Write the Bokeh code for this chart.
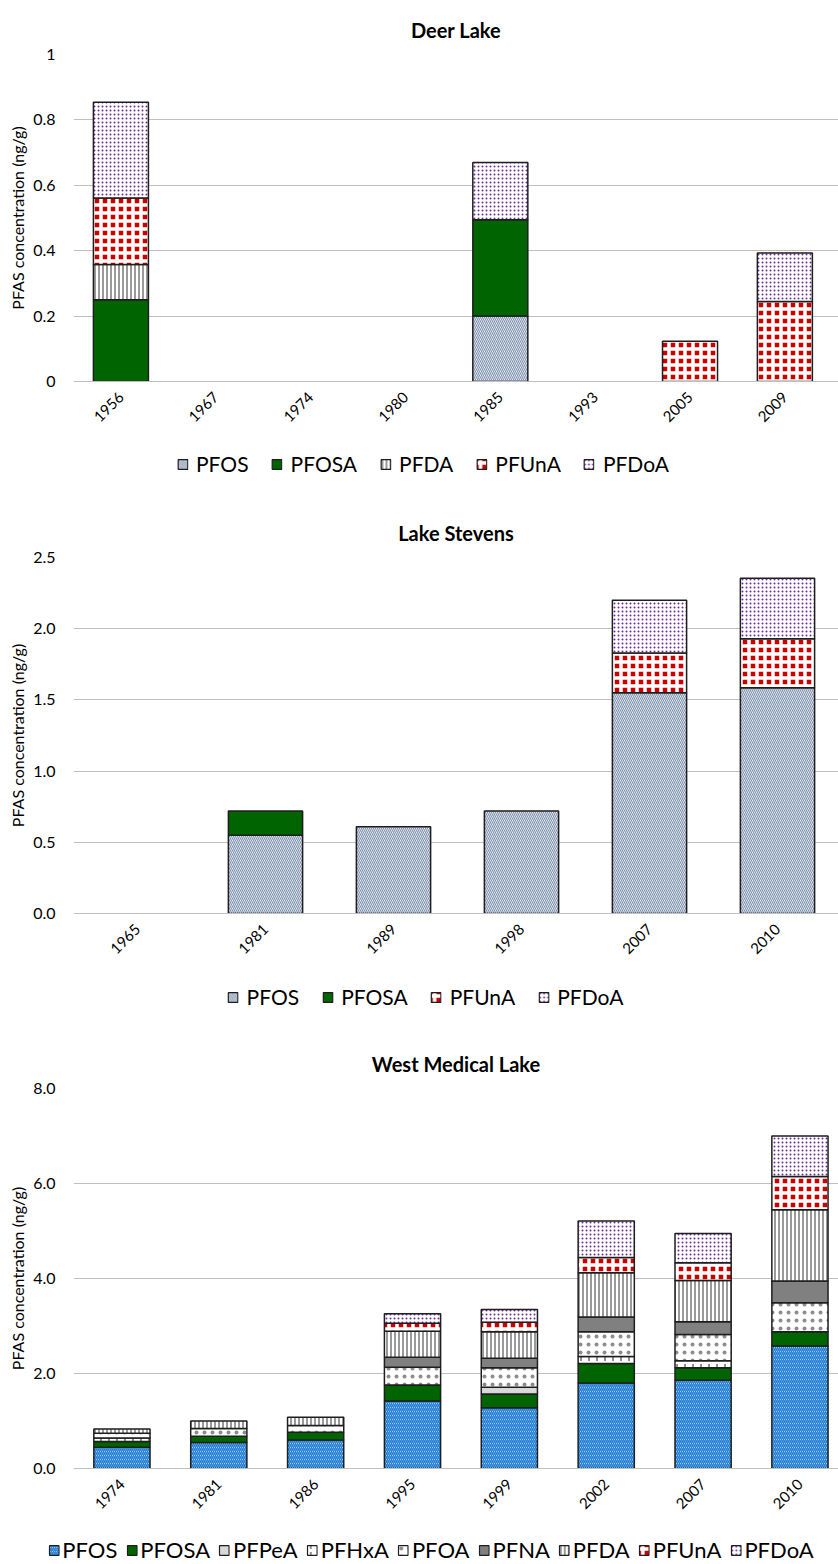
import math
import numpy as np
from bokeh.plotting import figure
from bokeh.models import (ColumnDataSource, Range1d, FixedTicker, NumeralTickFormatter,
                          Legend, LegendItem)
from bokeh.layouts import column
from bokeh.embed import file_html
from bokeh.resources import INLINE

FONT = "Lato"

# ---------------- data ----------------
deer_years = ["1956", "1967", "1974", "1980", "1985", "1993", "2005", "2009"]
deer_PFOS = [0, 0, 0, 0, 0.20, 0, 0, 0]
deer_PFOSA = [0.25, 0, 0, 0, 0.295, 0, 0, 0]
deer_PFDA = [0.108, 0, 0, 0, 0, 0, 0, 0]
deer_PFUnA = [0.203, 0, 0, 0, 0, 0, 0.123, 0.245]
deer_PFDoA = [0.293, 0, 0, 0, 0.175, 0, 0, 0.148]

stevens_years = ["1965", "1981", "1989", "1998", "2007", "2010"]
stevens_PFOS = [0, 0.55, 0.61, 0.72, 1.55, 1.585]
stevens_PFOSA = [0, 0.17, 0, 0, 0, 0]
stevens_PFUnA = [0, 0, 0, 0, 0.28, 0.345]
stevens_PFDoA = [0, 0, 0, 0, 0.37, 0.425]

wml_years = ["1974", "1981", "1986", "1995", "1999", "2002", "2007", "2010"]
wml_PFOS = [0.45, 0.55, 0.60, 1.42, 1.28, 1.80, 1.86, 2.58]
wml_PFOSA = [0.12, 0.13, 0.165, 0.34, 0.29, 0.41, 0.26, 0.30]
wml_PFPeA = [0, 0, 0, 0, 0.14, 0, 0, 0]
wml_PFHxA = [0.07, 0, 0, 0, 0, 0.15, 0.15, 0]
wml_PFOA = [0.10, 0.16, 0.14, 0.37, 0.41, 0.52, 0.55, 0.61]
wml_PFNA = [0, 0, 0, 0.21, 0.20, 0.31, 0.27, 0.46]
wml_PFDA = [0.09, 0.16, 0.175, 0.55, 0.56, 0.93, 0.87, 1.50]
wml_PFUnA = [0, 0, 0, 0.17, 0.20, 0.32, 0.37, 0.70]
wml_PFDoA = [0, 0, 0, 0.20, 0.27, 0.77, 0.62, 0.85]

STYLES = {
    "PFOS": dict(fill_color="white", hatch_pattern="\\", hatch_color="#7f93b0",
                 hatch_scale=4, hatch_weight=1.2),
    "PFOS3": dict(fill_color="white", hatch_pattern="\\", hatch_color="#1a7ad4",
                  hatch_scale=4, hatch_weight=1.6),
    "PFOSA": dict(fill_color="#006400"),
    "PFPeA": dict(fill_color="#d9d9d9"),
    "PFHxA": dict(fill_color="white", hatch_pattern=":", hatch_color="#222222",
                  hatch_scale=8, hatch_weight=1),
    "PFOA": dict(fill_color="white", hatch_pattern=".", hatch_color="#000000",
                 hatch_scale=8, hatch_weight=0.3, hatch_alpha=0.45),
    "PFNA": dict(fill_color="#808080"),
    "PFDA": dict(fill_color="white", hatch_pattern="|", hatch_color="#808080",
                 hatch_scale=4, hatch_weight=1.6),
    "PFUnA": dict(fill_color="#c80000", hatch_pattern="+", hatch_color="white",
                  hatch_scale=8, hatch_weight=3.5),
    "PFDoA": dict(fill_color="white", hatch_pattern=".", hatch_color="#6a2c9a",
                  hatch_scale=4, hatch_weight=1.5),
}

PAGE_W = 838
FRAME_LEFT = 73


def make_chart(title, years, names, series, style_keys, ymax, yint, yfmt, spacing,
               top_border, frame_h, bottom_border, leg_h, leg_top, leg_shift, leg_font,
               leg_spacing, leg_standoff):
    n = len(years)
    frame_w = PAGE_W - FRAME_LEFT
    xend = -0.5 + frame_w / spacing
    p = figure(width=PAGE_W, height=top_border + frame_h + bottom_border,
               x_range=Range1d(-0.5, xend), y_range=Range1d(0, ymax),
               output_backend="svg", toolbar_location=None,
               min_border_left=FRAME_LEFT, min_border_right=0, min_border_top=top_border,
               min_border_bottom=bottom_border)
    p.outline_line_color = None
    p.title.text = title
    p.title.align = "center"
    p.title.text_font = FONT
    p.title.text_font_size = "20px"
    p.title.text_font_style = "bold"
    p.title.text_color = "black"
    p.title.standoff = 25

    x = np.arange(n)
    base = np.zeros(n)
    for name, vals, sk in zip(names, series, style_keys):
        v = np.array(vals, dtype=float)
        m = v > 0
        src = ColumnDataSource(dict(x=x[m], bottom=base[m], top=(base + v)[m]))
        p.vbar(x="x", bottom="bottom", top="top", width=0.58, source=src,
               line_color="#1e1e1e", line_width=1.5, **STYLES[sk])
        base = base + v

    p.xgrid.grid_line_color = None
    p.ygrid.grid_line_color = "#bfbfbf"
    p.ygrid.grid_line_width = 1

    p.yaxis.ticker = FixedTicker(ticks=[round(t, 6) for t in np.arange(0, ymax + 1e-9, yint)])
    p.yaxis.formatter = NumeralTickFormatter(format=yfmt)
    p.yaxis.axis_line_color = None
    p.yaxis.major_tick_line_color = None
    p.yaxis.minor_tick_line_color = None
    p.yaxis.major_tick_out = 0
    p.yaxis.major_tick_in = 0
    p.yaxis.major_label_standoff = 18
    p.yaxis.major_label_text_font = FONT
    p.yaxis.major_label_text_font_size = "16px"
    p.yaxis.major_label_text_color = "black"
    p.yaxis.axis_label = "PFAS concentration (ng/g)"
    p.yaxis.axis_label_text_font = FONT
    p.yaxis.axis_label_text_font_size = "16px"
    p.yaxis.axis_label_text_font_style = "normal"
    p.yaxis.axis_label_text_color = "black"
    p.yaxis.axis_label_standoff = 3

    p.xaxis.ticker = FixedTicker(ticks=list(range(n)))
    p.xaxis.major_label_overrides = {i: y for i, y in enumerate(years)}
    p.xaxis.major_label_orientation = math.pi / 4
    p.xaxis.axis_line_color = "#bfbfbf"
    p.xaxis.major_tick_line_color = None
    p.xaxis.minor_tick_line_color = None
    p.xaxis.major_tick_out = 0
    p.xaxis.major_tick_in = 0
    p.xaxis.major_label_standoff = 13
    p.xaxis.major_label_text_font = FONT
    p.xaxis.major_label_text_font_size = "15px"
    p.xaxis.major_label_text_color = "black"

    # legend strip below the chart: sample renderers carry the styles but draw nothing
    lg = figure(width=PAGE_W, height=leg_h, x_range=Range1d(0, 1), y_range=Range1d(0, 1),
                x_axis_type=None, y_axis_type=None,
                output_backend="svg", toolbar_location=None,
                min_border_left=leg_shift, min_border_right=0, min_border_top=0,
                min_border_bottom=0)
    lg.frame_align = False
    lg.grid.grid_line_color = None
    lg.outline_line_color = None
    items = []
    for name, sk in zip(names, style_keys):
        r = lg.vbar(x=[0.5], bottom=[0.0], top=[float("nan")], width=0.1,
                    line_color="#1e1e1e", line_width=1.2, **STYLES[sk])
        items.append(LegendItem(label=name, renderers=[r]))
    leg = Legend(items=items, orientation="horizontal", location="top_center",
                 border_line_color=None, background_fill_alpha=0,
                 glyph_width=12, glyph_height=12, label_standoff=leg_standoff,
                 spacing=leg_spacing, padding=0, margin=leg_top,
                 label_text_font=FONT, label_text_font_size=leg_font,
                 label_text_color="black")
    lg.add_layout(leg, "center")
    return p, lg


p1, l1 = make_chart("Deer Lake", deer_years,
                    ["PFOS", "PFOSA", "PFDA", "PFUnA", "PFDoA"],
                    [deer_PFOS, deer_PFOSA, deer_PFDA, deer_PFUnA, deer_PFDoA],
                    ["PFOS", "PFOSA", "PFDA", "PFUnA", "PFDoA"],
                    1.0, 0.2, "0.[0]", 94.85, 54, 327, 60, 64, 10, 7, "21px", 22, 8)

p2, l2 = make_chart("Lake Stevens", stevens_years,
                    ["PFOS", "PFOSA", "PFUnA", "PFDoA"],
                    [stevens_PFOS, stevens_PFOSA, stevens_PFUnA, stevens_PFDoA],
                    ["PFOS", "PFOSA", "PFUnA", "PFDoA"],
                    2.5, 0.5, "0.0", 128.0, 52, 356, 60, 63, 11, 12, "21px", 22, 8)

p3, l3 = make_chart("West Medical Lake", wml_years,
                    ["PFOS", "PFOSA", "PFPeA", "PFHxA", "PFOA", "PFNA", "PFDA", "PFUnA", "PFDoA"],
                    [wml_PFOS, wml_PFOSA, wml_PFPeA, wml_PFHxA, wml_PFOA, wml_PFNA, wml_PFDA,
                     wml_PFUnA, wml_PFDoA],
                    ["PFOS3", "PFOSA", "PFPeA", "PFHxA", "PFOA", "PFNA", "PFDA", "PFUnA", "PFDoA"],
                    8.0, 2.0, "0.0", 96.86, 52, 380, 55, 41, 13, 23, "22px", 8, 3)

layout = column(p1, l1, p2, l2, p3, l3, spacing=0)
open("out.html", "w").write(file_html(layout, INLINE))
